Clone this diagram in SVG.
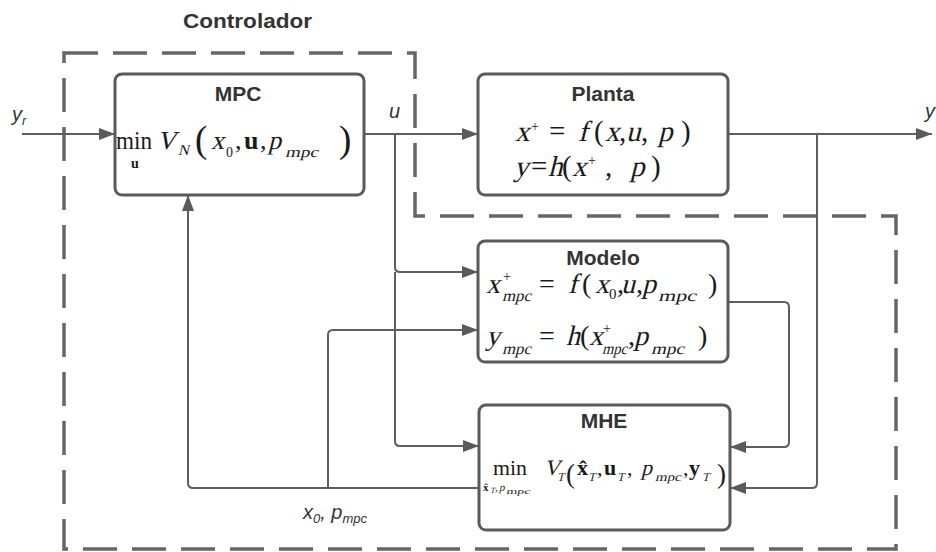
<svg xmlns="http://www.w3.org/2000/svg" width="936" height="552" viewBox="0 0 936 552">
  <defs>
    <marker id="arrow" viewBox="0 0 16 12" markerWidth="16" markerHeight="12" refX="16" refY="6" orient="auto" markerUnits="userSpaceOnUse">
      <path d="M0,0 L16,6 L0,12 Z" fill="#5a5a5a"/>
    </marker>
    <style>
      .box { fill: #ffffff; stroke: #5a5a5a; stroke-width: 3; }
      .wire { fill: none; stroke: #5e5e5e; stroke-width: 2; }
      .dash { fill: none; stroke: #666666; stroke-width: 3.5; stroke-dasharray: 34 15; }
      .title { font-family: "Liberation Sans", Arial, sans-serif; font-weight: bold; font-size: 21px; fill: #333333; text-anchor: middle; }
      .lbl { font-family: "Liberation Sans", Arial, sans-serif; font-style: italic; font-size: 20px; fill: #333333; }
      .m { font-family: "Liberation Serif", "Times New Roman", serif; fill: #1a1a1a; }
      .b { font-weight: bold; }
    </style>
  </defs>

  <!-- controller boundary -->
  <path class="dash" d="M64,53 H415 V216 H896 V549 H64 Z"/>
  <text x="183" y="28" class="title" style="text-anchor:start" font-size="22" textLength="129" lengthAdjust="spacingAndGlyphs">Controlador</text>

  <!-- connectors -->
  <g id="connectors">
    <path class="wire" d="M22,134 H115" marker-end="url(#arrow)"/>
    <path class="wire" d="M364,134 H478" marker-end="url(#arrow)"/>
    <path class="wire" d="M395,134 V267 Q395,272 400,272 H478" marker-end="url(#arrow)"/>
    <path class="wire" d="M395,272 V441 Q395,446 400,446 H479" marker-end="url(#arrow)"/>
    <path class="wire" d="M728,134 H932" marker-end="url(#arrow)"/>
    <path class="wire" d="M817,134 V483 Q817,488 812,488 H730" marker-end="url(#arrow)"/>
    <path class="wire" d="M728,302 H784 Q789,302 789,307 V442 Q789,447 784,447 H730" marker-end="url(#arrow)"/>
    <path class="wire" d="M479,488 H193 Q188,488 188,483 V195" marker-end="url(#arrow)"/>
    <path class="wire" d="M328,488 V335 Q328,330 333,330 H478" marker-end="url(#arrow)"/>
  </g>

  <!-- signal labels -->
  <text class="lbl" x="12" y="121">y<tspan font-size="13" dy="4">r</tspan></text>
  <text class="lbl" x="389" y="118">u</text>
  <text class="lbl" x="925" y="118">y</text>
  <text class="lbl" x="303" y="519">x<tspan font-size="13" dy="4">0</tspan><tspan dy="-4">, p</tspan><tspan font-size="13" dy="4">mpc</tspan></text>

  <!-- MPC: italic symbols are upright serif glyphs slanted with skewX -->
  <g id="mpc">
    <rect class="box" x="115" y="74" width="249" height="121" rx="7"/>
    <text class="title" x="238" y="101">MPC</text>
    <g class="m" font-size="26">
      <text x="116" y="149" textLength="36" lengthAdjust="spacingAndGlyphs">min</text>
      <text x="131" y="168" font-size="14" class="b">u</text>
      <text transform="translate(157,149) skewX(-14)">V</text>
      <text transform="translate(178,155) skewX(-14)" font-size="15">N</text>
      <text x="195" y="152" font-size="37">(</text>
      <text transform="translate(211,149) skewX(-14)">x</text>
      <text x="226" y="157" font-size="14">0</text>
      <text x="235" y="149">,</text>
      <text x="244" y="149" class="b">u</text>
      <text x="260" y="149">,</text>
      <text transform="translate(268,149) skewX(-14)">p</text>
      <text transform="translate(285,157) skewX(-14)" font-size="15" textLength="33" lengthAdjust="spacingAndGlyphs">mpc</text>
      <text x="339" y="152" font-size="37">)</text>
    </g>
  </g>

  <!-- Planta -->
  <g id="planta">
    <rect class="box" x="478" y="74" width="250" height="121" rx="7"/>
    <text class="title" x="603" y="101">Planta</text>
    <g class="m" font-size="29">
      <text transform="translate(515,141) skewX(-14)">x</text>
      <text x="531" y="131" font-size="14">+</text>
      <text x="549" y="141">=</text>
      <text transform="translate(578,141) skewX(-14)">f</text>
      <text x="594" y="141">(</text>
      <text transform="translate(605,141) skewX(-14)">x</text>
      <text x="619" y="141">,</text>
      <text transform="translate(626,141) skewX(-14)">u</text>
      <text x="641" y="141">,</text>
      <text transform="translate(658,141) skewX(-14)">p</text>
      <text x="681" y="141">)</text>

      <text transform="translate(514,176) skewX(-14)">y</text>
      <text x="531" y="176">=</text>
      <text transform="translate(548,176) skewX(-14)">h</text>
      <text x="562" y="176">(</text>
      <text transform="translate(572,176) skewX(-14)">x</text>
      <text x="588" y="165" font-size="14">+</text>
      <text x="605" y="176">,</text>
      <text transform="translate(630,176) skewX(-14)">p</text>
      <text x="651" y="176">)</text>
    </g>
  </g>

  <!-- Modelo -->
  <g id="modelo">
    <rect class="box" x="478" y="241" width="250" height="121" rx="7"/>
    <text class="title" x="603" y="265">Modelo</text>
    <g class="m" font-size="28">
      <text transform="translate(486,293) skewX(-14)">x</text>
      <text x="503" y="281" font-size="14">+</text>
      <text transform="translate(502,301) skewX(-14)" font-size="16" textLength="29" lengthAdjust="spacingAndGlyphs">mpc</text>
      <text x="539" y="293">=</text>
      <text transform="translate(568,293) skewX(-14)">f</text>
      <text x="582" y="293">(</text>
      <text transform="translate(595,293) skewX(-14)">x</text>
      <text x="609" y="299" font-size="15">0</text>
      <text x="617" y="293">,</text>
      <text transform="translate(621,293) skewX(-14)">u</text>
      <text x="636" y="293">,</text>
      <text transform="translate(642,293) skewX(-14)">p</text>
      <text transform="translate(658,301) skewX(-14)" font-size="16" textLength="38" lengthAdjust="spacingAndGlyphs">mpc</text>
      <text x="708" y="293">)</text>

      <text transform="translate(486,345) skewX(-14)">y</text>
      <text transform="translate(502,354) skewX(-14)" font-size="16" textLength="29" lengthAdjust="spacingAndGlyphs">mpc</text>
      <text x="539" y="345">=</text>
      <text transform="translate(566,345) skewX(-14)">h</text>
      <text x="580" y="345">(</text>
      <text transform="translate(589,345) skewX(-14)">x</text>
      <text x="603" y="333" font-size="14">+</text>
      <text transform="translate(602,354) skewX(-14)" font-size="16" textLength="25" lengthAdjust="spacingAndGlyphs">mpc</text>
      <text x="628" y="345">,</text>
      <text transform="translate(634,345) skewX(-14)">p</text>
      <text transform="translate(651,354) skewX(-14)" font-size="16" textLength="33" lengthAdjust="spacingAndGlyphs">mpc</text>
      <text x="698" y="345">)</text>
    </g>
  </g>

  <!-- MHE -->
  <g id="mhe">
    <rect class="box" x="479" y="405" width="251" height="125" rx="7"/>
    <text class="title" x="604" y="428">MHE</text>
    <g class="m" font-size="22">
      <text x="493" y="475" textLength="34" lengthAdjust="spacingAndGlyphs">min</text>
      <text x="483" y="491" font-size="11" class="b">x&#x302;</text>
      <text transform="translate(490,493) skewX(-14)" font-size="8">T</text>
      <text x="495" y="491" font-size="11">,</text>
      <text transform="translate(499,491) skewX(-14)" font-size="11">p</text>
      <text transform="translate(506,494) skewX(-14)" font-size="8" textLength="24" lengthAdjust="spacingAndGlyphs">mpc</text>
      <text transform="translate(544,475) skewX(-14)">V</text>
      <text transform="translate(557,481) skewX(-14)" font-size="12">T</text>
      <text x="566" y="483" font-size="27">(</text>
      <text x="577" y="475" class="b">x&#x302;</text>
      <text transform="translate(588,481) skewX(-14)" font-size="12">T</text>
      <text x="597" y="475">,</text>
      <text x="604" y="475" class="b">u</text>
      <text transform="translate(617,481) skewX(-14)" font-size="12">T</text>
      <text x="627" y="475">,</text>
      <text transform="translate(641,475) skewX(-14)">p</text>
      <text transform="translate(655,481) skewX(-14)" font-size="12" textLength="26" lengthAdjust="spacingAndGlyphs">mpc</text>
      <text x="683" y="475">,</text>
      <text x="689" y="475" class="b">y</text>
      <text transform="translate(702,481) skewX(-14)" font-size="12">T</text>
      <text x="717" y="483" font-size="27">)</text>
    </g>
  </g>
</svg>
